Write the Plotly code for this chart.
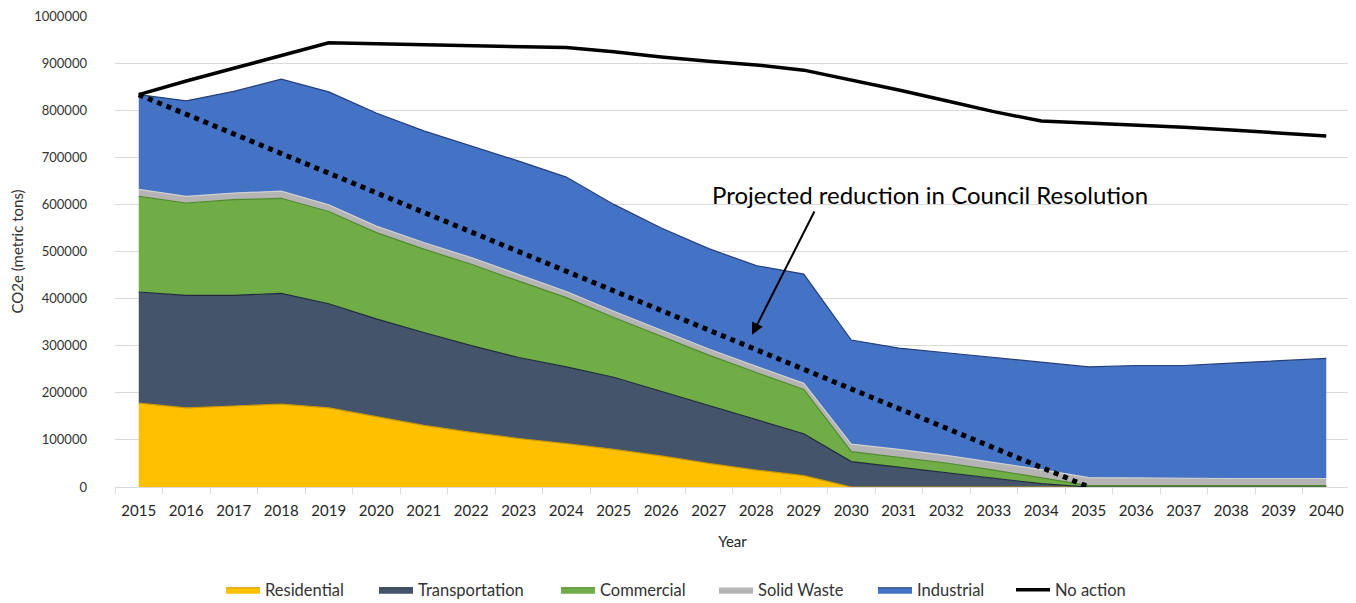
import plotly.graph_objects as go

years = list(range(2015, 2041))

residential = [178000, 168000, 172000, 176000, 168000, 149000, 131000, 116000, 103000, 92000,
               80000, 66000, 50000, 36000, 24000, 0, 0, 0, 0, 0,
               0, 0, 0, 0, 0, 0]
transportation = [236000, 239000, 235000, 235000, 221000, 208000, 197000, 184000, 172000, 163000,
                  153000, 137000, 122000, 106000, 89000, 54000, 42000, 30000, 18000, 7000,
                  0, 0, 0, 0, 0, 0]
commercial = [203000, 196000, 203000, 202000, 196000, 183000, 177000, 173000, 162000, 147000,
              127000, 117000, 108000, 101000, 94000, 21000, 21000, 21000, 18000, 13000,
              3000, 3000, 3000, 3000, 3000, 3000]
solid_waste = [15000, 14000, 14000, 15000, 14000, 14000, 14000, 14000, 14000, 13000,
               13000, 13000, 13000, 13000, 13000, 16000, 17000, 16000, 16000, 17000,
               17000, 16000, 16000, 15000, 15000, 15000]
industrial = [201000, 203000, 216000, 238000, 240000, 240000, 237000, 237000, 241000, 243000,
              227000, 217000, 213000, 214000, 232000, 221000, 215000, 218000, 223000, 227000,
              235000, 239000, 239000, 245000, 250000, 255000]
no_action = [833000, 862000, 889000, 916000, 943000, 941000, 939000, 937000, 935000, 933000,
             924000, 913000, 904000, 896000, 885000, 864000, 843000, 820000, 797000, 777000,
             773000, 769000, 764000, 758000, 752000, 745000]

target_years = [2015, 2035]
target_values = [833000, 0]

FONT = "Lato"
W, H = 1348, 595   # page body adds an 8px offset inside the 1356x603 window

series = [
    ("Residential", residential, "#FFC000", "#C99700"),
    ("Transportation", transportation, "#44546A", "#1F2A3A"),
    ("Commercial", commercial, "#70AD47", "#4E8A2C"),
    ("Solid Waste", solid_waste, "#B4B4B4", "#D0D0D0"),
    ("Industrial", industrial, "#4472C4", "#243F7A"),
]
legend_ids = ["legend", "legend2", "legend3", "legend4", "legend5", "legend6"]
legend_left_px = [225, 378, 560, 718, 877, 1015]

fig = go.Figure()
for (name, vals, fill, edge), lid in zip(series, legend_ids):
    fig.add_trace(go.Scatter(
        x=years, y=vals, name=name, mode="lines",
        stackgroup="one", fillcolor=fill,
        line=dict(color=edge, width=1.2), legend=lid,
    ))

fig.add_trace(go.Scatter(
    x=years, y=no_action, name="No action", mode="lines",
    line=dict(color="black", width=3.5), legend=legend_ids[5],
))

fig.add_trace(go.Scatter(
    x=target_years, y=target_values, mode="lines", showlegend=False,
    line=dict(color="black", width=5, dash="5px,5px"),
))

fig.add_annotation(
    x=2031.65, y=620000, xref="x", yref="y",
    text="Projected reduction in Council Resolution",
    showarrow=False, font=dict(family=FONT, size=24, color="black"),
)
fig.add_annotation(
    x=2027.91, y=323000, xref="x", yref="y",
    ax=2029.24, ay=588000, axref="x", ayref="y",
    text="", showarrow=True, arrowhead=2, arrowsize=1.2, arrowwidth=2, arrowcolor="black",
)

legend_style = dict(
    orientation="h", xref="container", yref="container",
    xanchor="left", yanchor="middle", y=1 - (590 - 8) / H,
    font=dict(family=FONT, size=16.5, color="#333333"),
    itemwidth=34, bgcolor="rgba(0,0,0,0)",
)
legends = {}
for lid, px in zip(legend_ids, legend_left_px):
    legends[lid] = dict(legend_style, x=(px - 8 - 4) / W)

fig.update_layout(
    width=W, height=H,
    margin=dict(l=107, r=6, t=8, b=116),
    paper_bgcolor="white", plot_bgcolor="white",
    font=dict(family=FONT, color="#333333"),
    showlegend=True,
    xaxis=dict(
        range=[2014.5, 2040.5], automargin=False,
        tickmode="array", tickvals=years, ticktext=[str(y) for y in years],
        ticks="", showgrid=False,
        showline=True, linecolor="#D9D9D9", linewidth=1,
        tickfont=dict(family=FONT, size=15, color="#262626"),
        ticklabelstandoff=10,
        minor=dict(tickmode="array", tickvals=[y - 0.5 for y in years] + [2040.5],
                   ticks="outside", ticklen=6, tickcolor="#D9D9D9", showgrid=False),
        title=dict(text="Year", font=dict(family=FONT, size=15, color="#262626"), standoff=18),
        zeroline=False,
    ),
    yaxis=dict(
        range=[0, 1000000], dtick=100000, tickformat="d", automargin=False,
        showgrid=True, gridcolor="#D9D9D9", gridwidth=1,
        zeroline=False, showline=False, ticklabeloverflow="allow",
        tickfont=dict(family=FONT, size=13, color="#333333"),
        ticklabelstandoff=27,
        title=dict(text="CO2e (metric tons)", font=dict(family=FONT, size=15, color="#333333"), standoff=6),
    ),
    **legends,
)

fig.write_html("out.html")
